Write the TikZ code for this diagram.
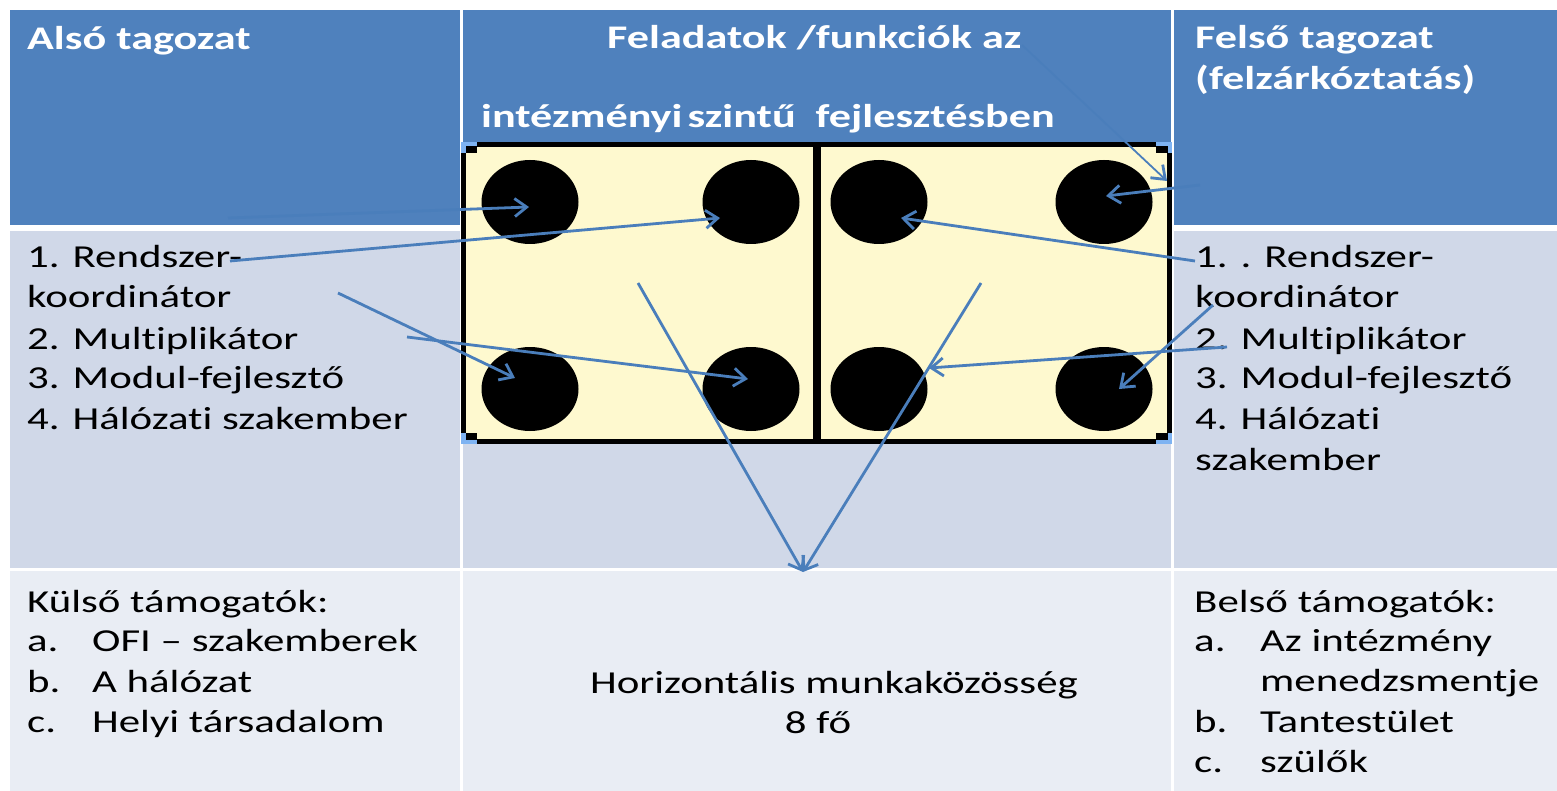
\documentclass[tikz,border=0pt]{standalone}
\usepackage{fontspec}
\setmainfont{Carlito}[FakeStretch=1.34,Ligatures=NoCommon]
\usetikzlibrary{arrows.meta,shapes.geometric}
\definecolor{hdr}{HTML}{4F81BD}
\definecolor{rowa}{HTML}{D0D8E8}
\definecolor{rowb}{HTML}{E9EDF4}
\definecolor{cream}{HTML}{FEF9CF}
\definecolor{arr}{HTML}{4A7EBB}
\definecolor{handle}{HTML}{7EB3F2}
\begin{document}
\begin{tikzpicture}[x=1pt,y=-1pt,
 cell/.style={anchor=north west, inner sep=0pt, outer sep=0pt, draw=none},
 dot/.style={ellipse, fill=black, minimum width=97pt, minimum height=84pt, inner sep=0pt},
 link/.style={draw=arr, line width=2.8pt, -{Straight Barb[length=12pt,width=18pt,line width=2.8pt]}},
 hd/.style={anchor=base west, inner sep=0pt, text=white, font=\fontsize{33}{41}\selectfont\bfseries},
 bd/.style={anchor=base west, inner sep=0pt, font=\fontsize{32}{40.5}\selectfont},
 hnd/.style={fill=handle},
]
\useasboundingbox (0,0) rectangle (1557,791);
\fill[white] (0,0) rectangle (1557,791);
% table cells
\node[cell, fill=hdr, minimum width=450pt, minimum height=215pt] (h1) at (10,10) {};
\node[cell, fill=hdr, minimum width=708pt, minimum height=215pt] (h2) at (463,10) {};
\node[cell, fill=hdr, minimum width=383pt, minimum height=215pt] (h3) at (1174,10) {};
\node[cell, fill=rowa, minimum width=450pt, minimum height=337pt] (m1) at (10,231) {};
\node[cell, fill=rowa, minimum width=708pt, minimum height=337pt] (m2) at (463,231) {};
\node[cell, fill=rowa, minimum width=383pt, minimum height=337pt] (m3) at (1174,231) {};
\node[cell, fill=rowb, minimum width=450pt, minimum height=220pt] (b1) at (10,571) {};
\node[cell, fill=rowb, minimum width=708pt, minimum height=220pt] (b2) at (463,571) {};
\node[cell, fill=rowb, minimum width=383pt, minimum height=220pt] (b3) at (1174,571) {};
% domino
\node[cell, draw=black, line width=4.5pt, fill=cream, minimum width=706pt, minimum height=297pt] (dom) at (463.5,144.5) {};
\fill[black] (813,144.5) rectangle (821,441.5);
\node[dot] (c1) at (530,202) {};
\node[dot] (c2) at (751,202) {};
\node[dot] (c3) at (530,389) {};
\node[dot] (c4) at (751,389) {};
\node[dot] (c5) at (879,202) {};
\node[dot] (c6) at (1104,202) {};
\node[dot] (c7) at (879,389) {};
\node[dot] (c8) at (1104,389) {};
% corner handles
\fill[hnd] (461,142) rectangle (477,146.5); \fill[hnd] (461,142) rectangle (465.5,153);
\fill[black] (465.5,146.5) rectangle (477,153);
\fill[hnd] (1156,142) rectangle (1172,146.5); \fill[hnd] (1167.5,142) rectangle (1172,153);
\fill[black] (1156,146.5) rectangle (1167.5,153);
\fill[hnd] (461,439.5) rectangle (477,444); \fill[hnd] (461,433) rectangle (465.5,444);
\fill[black] (465.5,433) rectangle (477,439.5);
\fill[hnd] (1156,439.5) rectangle (1172,444); \fill[hnd] (1167.5,433) rectangle (1172,444);
\fill[black] (1156,433) rectangle (1167.5,439.5);
% header texts
\node[hd] (t1) at (27,50) {Alsó tagozat};
\node[hd] (t2) at (607,49) {Feladatok /funkciók az};
\node[hd] (t3) at (481,128) {intézményi\hspace{5pt}szintű\ \ fejlesztésben};
\node[hd] (t4) at (1195,49) {Felső tagozat};
\node[hd] (t5) at (1195,90) {(felzárkóztatás)};
% left middle
\node[bd] (l1) at (27,268) {1. Rendszer-};
\node[bd] (l2) at (27,308) {koordinátor};
\node[bd] (l3) at (27,349) {2. Multiplikátor};
\node[bd] (l4) at (27,388) {3. Modul-fejlesztő};
\node[bd] (l5) at (27,429) {4. Hálózati szakember};
% right middle
\node[bd] (r1) at (1195,268) {1. . Rendszer-};
\node[bd] (r2) at (1195,308) {koordinátor};
\node[bd] (r3) at (1195,349) {2. Multiplikátor};
\node[bd] (r4) at (1195,388) {3. Modul-fejlesztő};
\node[bd] (r5) at (1195,429) {4. Hálózati};
\node[bd] (r6) at (1195,470) {szakember};
% left bottom
\node[bd] (k0) at (27,612) {Külső támogatók:};
\node[bd] (k1) at (27,651) {\makebox[65pt][l]{a.}OFI – szakemberek};
\node[bd] (k2) at (27,692) {\makebox[65pt][l]{b.}A hálózat};
\node[bd] (k3) at (27,732) {\makebox[65pt][l]{c.}Helyi társadalom};
% right bottom
\node[bd] (n0) at (1194,612) {Belső támogatók:};
\node[bd] (n1) at (1194,651) {\makebox[66pt][l]{a.}Az intézmény};
\node[bd] (n2) at (1260,691) {menedzsmentje};
\node[bd] (n3) at (1194,732) {\makebox[66pt][l]{b.}Tantestület};
\node[bd] (n4) at (1194,772) {\makebox[66pt][l]{c.}szülők};
% middle bottom
\node[bd, anchor=base] (mid1) at (834,693) {Horizontális munkaközösség};
\node[bd, anchor=base] (mid2) at (818,733) {8 fő};
% connector ends
\coordinate (s1) at (228,218);  \coordinate (e1) at (529,207);
\coordinate (s2) at (230,261);  \coordinate (e2) at (720,218);
\coordinate (s3) at (338,293);  \coordinate (e3) at (515,378);
\coordinate (s4) at (407,337);  \coordinate (e4) at (748,379);
\coordinate (s5) at (638,283);  \coordinate (s6) at (981,283);
\coordinate (meet) at (803,572);
\coordinate (s7) at (1022,45);  \coordinate (e7) at (1167,181);
\coordinate (s8) at (1200,185); \coordinate (e8) at (1106,196);
\coordinate (s9) at (1195,261); \coordinate (e9) at (901,218);
\coordinate (s10) at (1213,305); \coordinate (e10) at (1119,389);
\coordinate (s11) at (1227,347); \coordinate (e11) at (929,368);
% connectors
\draw[link] (s1) -- (e1);
\draw[link] (s2) -- (e2);
\draw[link] (s3) -- (e3);
\draw[link] (s4) -- (e4);
\draw[link] (s5) -- (meet);
\draw[link] (s6) -- (meet);
\draw[link, line width=1.8pt] (s7) -- (e7);
\draw[link] (s8) -- (e8);
\draw[link] (s9) -- (e9);
\draw[link] (s10) -- (e10);
\draw[link] (s11) -- (e11);
\end{tikzpicture}
\end{document}
